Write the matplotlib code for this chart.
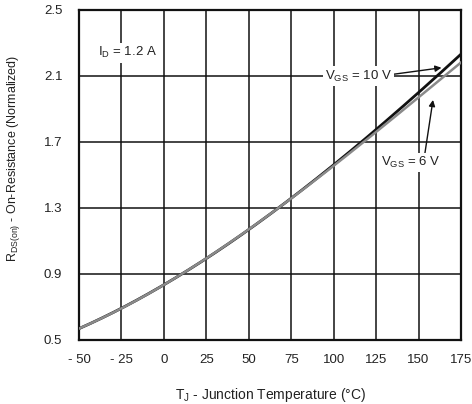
import numpy as np
import matplotlib
matplotlib.use("Agg")
import matplotlib.pyplot as plt

plt.rcParams['font.family'] = ['Liberation Sans', 'DejaVu Sans']
plt.rcParams['mathtext.fontset'] = 'custom'
plt.rcParams['mathtext.rm'] = 'Liberation Sans'
plt.rcParams['mathtext.it'] = 'Liberation Sans'

# junction temperature (°C) and normalized R_DS(on)
temp = [-50, -25, 0, 25, 50, 75, 100, 125, 150, 175]
r_vgs10 = [0.57, 0.69, 0.833, 1.0, 1.17, 1.355, 1.56, 1.775, 2.005, 2.23]
r_vgs6 = [0.57, 0.69, 0.833, 1.0, 1.17, 1.355, 1.555, 1.76, 1.975, 2.18]

xticks = [-50, -25, 0, 25, 50, 75, 100, 125, 150, 175]
xtick_labels = ['- 50', '- 25', '0', '25', '50', '75', '100', '125', '150', '175']
yticks = [0.5, 0.9, 1.3, 1.7, 2.1, 2.5]

txt_color = '#222222'
fs = 9.5

fig = plt.figure(figsize=(4.72, 4.04), dpi=100)
ax = fig.add_axes([79 / 472, 64 / 404, 382 / 472, 330 / 404])

# smooth curves through the read points
ts = np.linspace(-50, 175, 200)
c10 = np.polyfit(temp, r_vgs10, 3)
c6 = np.polyfit(temp, r_vgs6, 3)
ax.plot(ts, np.polyval(c10, ts), color='#111111', lw=2.0, zorder=3)
ax.plot(ts, np.polyval(c6, ts), color='#8a8a8a', lw=1.8, zorder=4)

ax.set_xlim(-50, 175)
ax.set_ylim(0.5, 2.5)
ax.set_xticks(xticks)
ax.set_xticklabels(xtick_labels)
ax.set_yticks(yticks)
ax.set_yticklabels([f'{v:.1f}' for v in yticks])
ax.grid(True, color='#111111', lw=1.1)
ax.tick_params(length=0, labelsize=fs, labelcolor=txt_color)
ax.tick_params(axis='x', pad=10)
ax.tick_params(axis='y', pad=12)
for s in ax.spines.values():
    s.set_linewidth(1.6)
    s.set_color('#111111')

ax.set_xlabel(r'T$_{\rm J}$ - Junction Temperature (°C)', fontsize=10, color=txt_color)
ax.xaxis.set_label_coords(0.5, -0.14)
ax.set_ylabel(r'R$_{\rm DS(on)}$ - On-Resistance (Normalized)', fontsize=9, color=txt_color)
ax.yaxis.set_label_coords(-0.15, 0.55)

box = dict(facecolor='white', edgecolor='none', pad=1.5)
ax.text(-39, 2.24, r'I$_{\rm D}$ = 1.2 A', fontsize=fs, color=txt_color,
        va='center', ha='left', bbox=box, zorder=5)
ax.annotate(r'V$_{\rm GS}$ = 10 V', xy=(163.5, 2.15), xytext=(114.5, 2.1),
            fontsize=fs, color=txt_color, ha='center', va='center', bbox=box, zorder=5,
            arrowprops=dict(arrowstyle='-|>', color='#111111', lw=1.0,
                            mutation_scale=9, relpos=(1.0, 0.6), shrinkA=0, shrinkB=0))
ax.annotate(r'V$_{\rm GS}$ = 6 V', xy=(158.5, 1.955), xytext=(145.5, 1.575),
            fontsize=fs, color=txt_color, ha='center', va='center', bbox=box, zorder=5,
            arrowprops=dict(arrowstyle='-|>', color='#111111', lw=1.0,
                            mutation_scale=9, relpos=(0.73, 1.0), shrinkA=0, shrinkB=0))

fig.savefig('out.png', dpi=100)
